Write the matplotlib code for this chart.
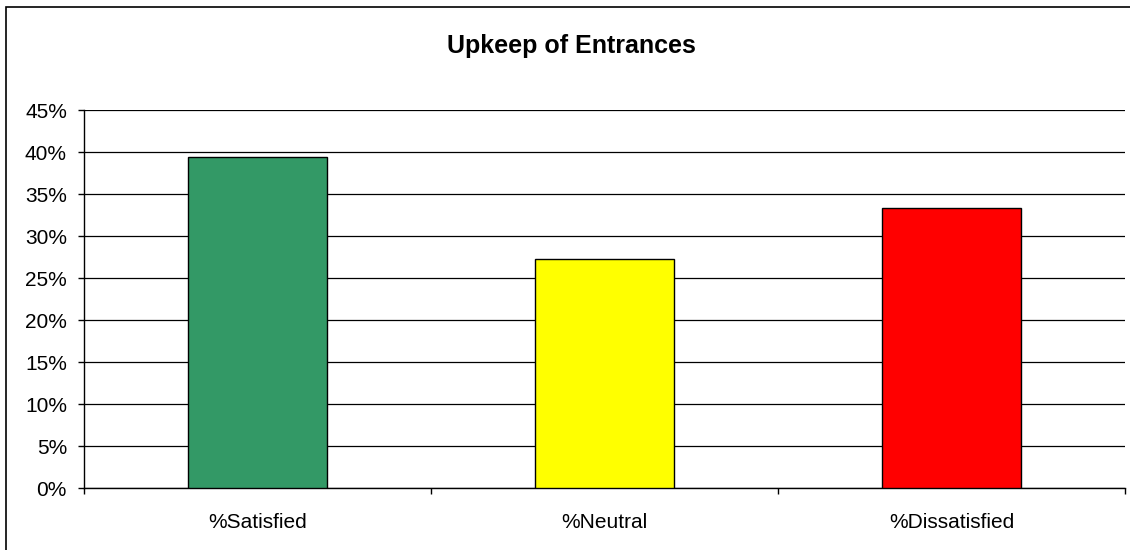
import matplotlib.pyplot as plt
from matplotlib.patches import Rectangle
from matplotlib.ticker import FuncFormatter

# ------------------------- Data -------------------------
categories = ["%Satisfied", "%Neutral", "%Dissatisfied"]
percents = [39.4, 27.3, 33.3]
bar_colors = ["#339966", "#FFFF00", "#FF0000"]
y_ticks = [0, 5, 10, 15, 20, 25, 30, 35, 40, 45]

plt.rcParams['font.family'] = ['Liberation Sans', 'DejaVu Sans']

fig = plt.figure(figsize=(11.3, 5.5), dpi=100)
fig.patch.set_facecolor("white")

# outer chart border (bottom/right run off the image)
fig.patches.append(Rectangle((6 / 1130, -0.05), 1.2, 1 - 7 / 550 + 0.05,
                             transform=fig.transFigure, fill=False,
                             edgecolor="black", linewidth=1.2))

ax = fig.add_axes([84 / 1130, 1 - 488 / 550, (1125 - 84) / 1130, (488 - 110) / 550])

x = range(len(categories))
ax.bar(x, percents, width=0.403, color=bar_colors, edgecolor="black",
       linewidth=1, zorder=3)

ax.set_xlim(-0.5, len(categories) - 0.5)
ax.set_ylim(0, 45)
ax.set_yticks(y_ticks)
ax.yaxis.set_major_formatter(FuncFormatter(lambda v, p: "%d%%" % v))
ax.yaxis.grid(True, color="black", linewidth=0.9, zorder=0)

# category labels centered, tick marks at category boundaries
ax.set_xticks(list(x))
ax.set_xticklabels(categories)
ax.tick_params(axis="x", length=0, pad=18, labelsize=15)
ax.set_xticks([i + 0.5 for i in range(-1, len(categories))], minor=True)
ax.tick_params(axis="x", which="minor", length=4.3, width=1, direction="out")
ax.tick_params(axis="y", length=4.3, width=1, direction="out", labelsize=15, pad=8)

for side in ["top", "right"]:
    ax.spines[side].set_visible(False)
ax.spines["left"].set_linewidth(1)
ax.spines["bottom"].set_linewidth(1)

fig.text(571 / 1130, 1 - 46 / 550, "Upkeep of Entrances", ha="center", va="center",
         fontsize=18, fontweight="bold")

fig.savefig("out.png", dpi=100)
